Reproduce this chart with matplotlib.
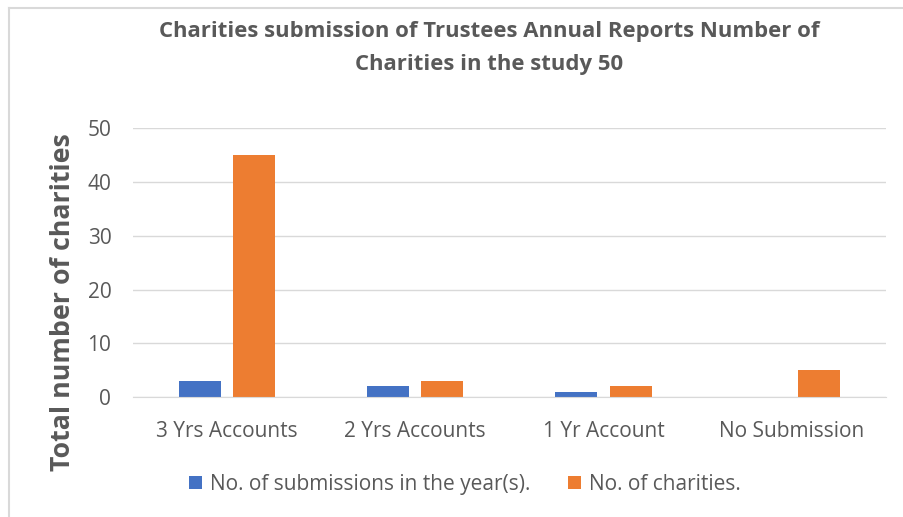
import matplotlib.pyplot as plt
import numpy as np
from matplotlib.lines import Line2D

# chart data
categories = ['3 Yrs Accounts', '2 Yrs Accounts', '1 Yr Account', 'No Submission']
submissions = [3, 2, 1, 0]
charities = [45, 3, 2, 5]
series_names = ['No. of submissions in the year(s).', 'No. of charities.']
y_ticks = [0, 10, 20, 30, 40, 50]

plt.rcParams['font.family'] = ['Open Sans', 'DejaVu Sans']
grey = '#595959'

fig = plt.figure(figsize=(9.04, 5.17), dpi=100)
ax = fig.add_axes([0.147, 0.232, 0.833, 0.520])

x = np.arange(len(categories))
w = 0.223
ax.bar(x - 0.144, submissions, width=w, color='#4472C4', label=series_names[0], zorder=3)
ax.bar(x + 0.144, charities, width=w, color='#ED7D31', label=series_names[1], zorder=3)

ax.set_xlim(-0.5, len(categories) - 0.5)
ax.set_ylim(0, 50)
ax.set_yticks(y_ticks)
ax.set_xticks(x)
ax.set_xticklabels(categories)
ax.tick_params(axis='both', length=0, labelsize=15, colors=grey)
ax.tick_params(axis='x', pad=17.5)
ax.tick_params(axis='y', pad=15.5)
ax.grid(axis='y', color='#D9D9D9', linewidth=1, zorder=0)
for s in ['top', 'right', 'left']:
    ax.spines[s].set_visible(False)
ax.spines['bottom'].set_color('#D9D9D9')
ax.spines['bottom'].set_zorder(4)

ax.set_ylabel('Total number of charities', fontsize=19.3, fontweight='bold', color=grey, va='center')
ax.yaxis.set_label_coords(-0.093, 0.353)

fig.text(0.541, 0.907, 'Charities submission of Trustees Annual Reports Number of\nCharities in the study 50',
         ha='center', va='center', fontsize=15.9, fontweight='bold', color=grey, linespacing=1.72)

fig.legend(loc='center', bbox_to_anchor=(0.514, 0.063), ncol=2, frameon=False,
           fontsize=15, labelcolor=grey, handlelength=0.63, handleheight=0.63,
           handletextpad=0.38, columnspacing=1.8)

# outer chart border (top and left edges visible)
fig.add_artist(Line2D([0.010, 1.0], [0.984, 0.984], color='#D9D9D9', lw=1.5, transform=fig.transFigure))
fig.add_artist(Line2D([0.010, 0.010], [0.0, 0.984], color='#D9D9D9', lw=1.5, transform=fig.transFigure))

fig.savefig('out.png', dpi=100)
